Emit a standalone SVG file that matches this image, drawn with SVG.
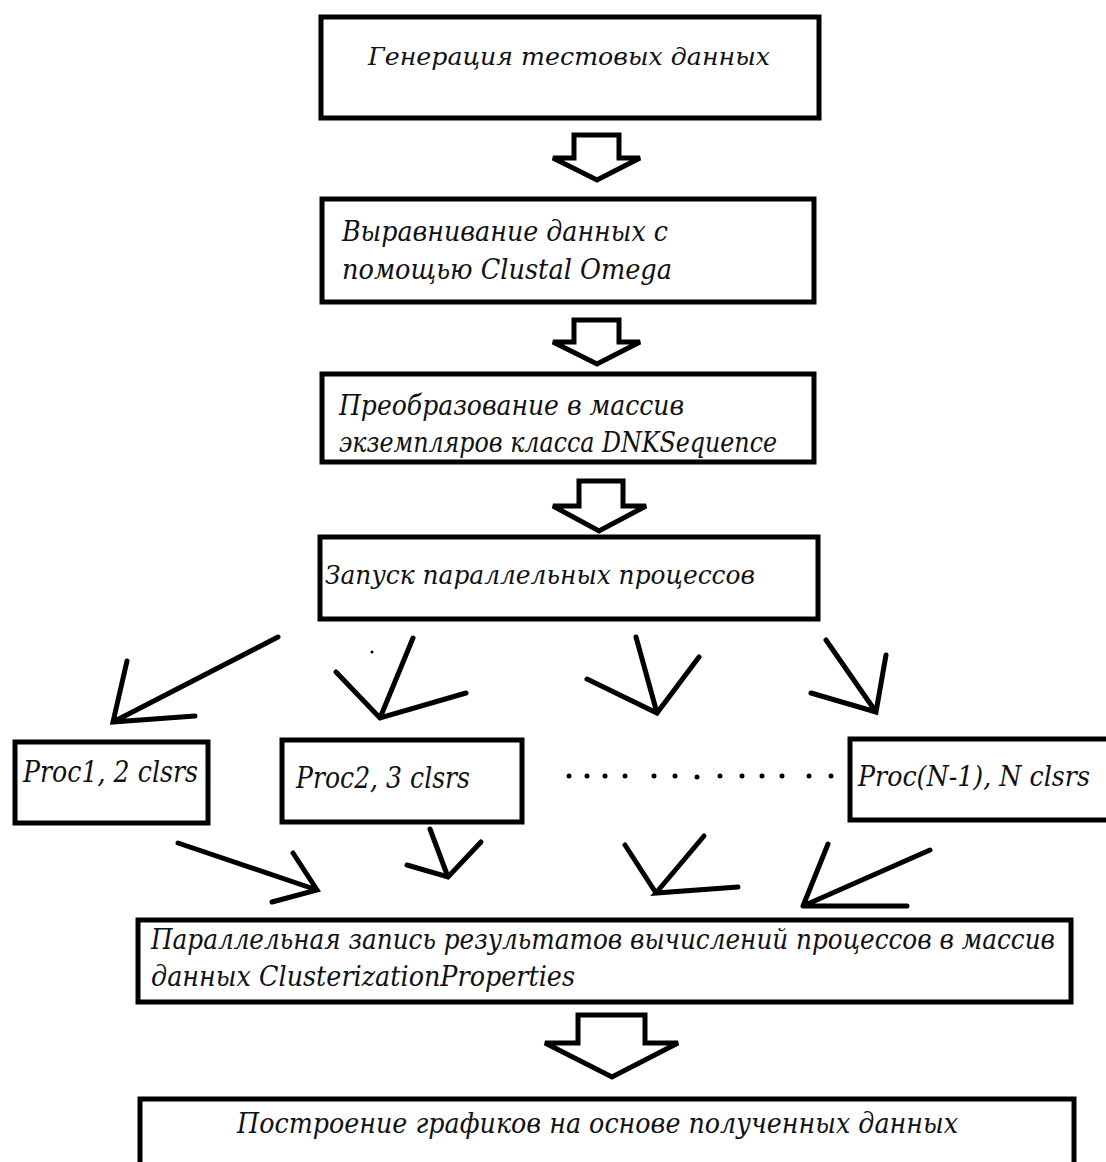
<svg xmlns="http://www.w3.org/2000/svg" width="1106" height="1162" viewBox="0 0 1106 1162">
<style>
.box{fill:#fff;stroke:#000;stroke-width:5}
.blk{fill:#fff;stroke:#000;stroke-width:5;stroke-linejoin:miter}
.t{font-family:"DejaVu Serif","Liberation Serif",serif;font-style:italic;fill:#111}
.ln{stroke:#000;stroke-width:5;stroke-linecap:round;fill:none}
</style>
<rect width="1106" height="1162" fill="#fff"/>
<g id="n1"><rect class="box" x="321" y="17" width="498" height="101"/>
<text class="t" x="368" y="65" font-size="25" textLength="402" lengthAdjust="spacingAndGlyphs">Генерация тестовых данных</text></g>
<g id="n2"><rect class="box" x="322" y="199" width="492" height="103"/>
<text class="t" x="342" y="241" font-size="27" textLength="326" lengthAdjust="spacingAndGlyphs">Выравнивание данных с</text>
<text class="t" x="342" y="279" font-size="27" textLength="330" lengthAdjust="spacingAndGlyphs">помощью Clustal Omega</text></g>
<g id="n3"><rect class="box" x="322" y="374" width="492" height="88"/>
<text class="t" x="339" y="415" font-size="27" textLength="345" lengthAdjust="spacingAndGlyphs">Преобразование в массив</text>
<text class="t" x="339" y="452" font-size="27" textLength="438" lengthAdjust="spacingAndGlyphs">экземпляров класса DNKSequence</text></g>
<g id="n4"><rect class="box" x="320" y="537" width="498" height="82"/>
<text class="t" x="325" y="584" font-size="26" textLength="430" lengthAdjust="spacingAndGlyphs">Запуск параллельных процессов</text></g>
<g id="p1"><rect class="box" x="15" y="742" width="193" height="81"/>
<text class="t" x="23" y="782" font-size="29" textLength="175" lengthAdjust="spacingAndGlyphs">Proc1, 2 clsrs</text></g>
<g id="p2"><rect class="box" x="282" y="740" width="240" height="82"/>
<text class="t" x="296" y="788" font-size="29" textLength="174" lengthAdjust="spacingAndGlyphs">Proc2, 3 clsrs</text></g>
<g id="pn"><rect class="box" x="850" y="739" width="262" height="81"/>
<text class="t" x="858" y="786" font-size="28" textLength="232" lengthAdjust="spacingAndGlyphs">Proc(N-1), N clsrs</text></g>
<g id="n5"><rect class="box" x="138" y="920" width="933" height="82"/>
<text class="t" x="151" y="949" font-size="27" textLength="904" lengthAdjust="spacingAndGlyphs">Параллельная запись результатов вычислений процессов в массив</text>
<text class="t" x="151" y="986" font-size="27" textLength="424" lengthAdjust="spacingAndGlyphs">данных ClusterizationProperties</text></g>
<g id="n6"><rect class="box" x="140" y="1099" width="934" height="100"/>
<text class="t" x="237" y="1133" font-size="28" textLength="721" lengthAdjust="spacingAndGlyphs">Построение графиков на основе полученных данных</text></g>
<g id="connectors">
<path class="blk" d="M574,135 H619 V158 H640 L597,180 L553,158 H574 Z"/>
<path class="blk" d="M574,320 H619 V342 H640 L597,364 L553,342 H574 Z"/>
<path class="blk" d="M579,481 H623 V506 H646 L599,531 L553,506 H579 Z"/>
<path class="blk" d="M578,1015 H645 V1043 H678 L612,1077 L545,1043 H578 Z"/>
<path class="ln" d="M278,637 L113,722 M127,661 L113,722 L195,716"/>
<path class="ln" d="M413,638 L380,718 M336,672 L380,718 L466,693"/>
<circle cx="372" cy="652" r="1.5" fill="#000"/>
<path class="ln" d="M636,637 L657,713 M587,679 L657,713 L699,657"/>
<path class="ln" d="M826,640 L876,712 M811,693 L876,712 L886,655"/>
<path class="ln" d="M178,843 L317,890 M293,853 L317,890 L272,902"/>
<path class="ln" d="M430,829 L448,877 M407,865 L448,877 L481,842"/>
<path class="ln" d="M625,845 L656,893 M704,836 L656,893 L738,887"/>
<path class="ln" d="M828,844 L803,906 M930,850 L803,906 L907,906"/>
<g fill="#000">
<circle cx="569" cy="776" r="2.5"/><circle cx="587" cy="776" r="2.5"/><circle cx="605" cy="776" r="2.5"/><circle cx="625" cy="776" r="2.5"/><circle cx="654" cy="776" r="2.5"/><circle cx="675" cy="776" r="2.5"/><circle cx="697" cy="777" r="2.5"/><circle cx="720" cy="776" r="2.5"/><circle cx="742" cy="776" r="2.5"/><circle cx="762" cy="776" r="2.5"/><circle cx="782" cy="776" r="2.5"/><circle cx="809" cy="776" r="2.5"/><circle cx="831" cy="776" r="2.5"/>
</g>
</g>
</svg>
